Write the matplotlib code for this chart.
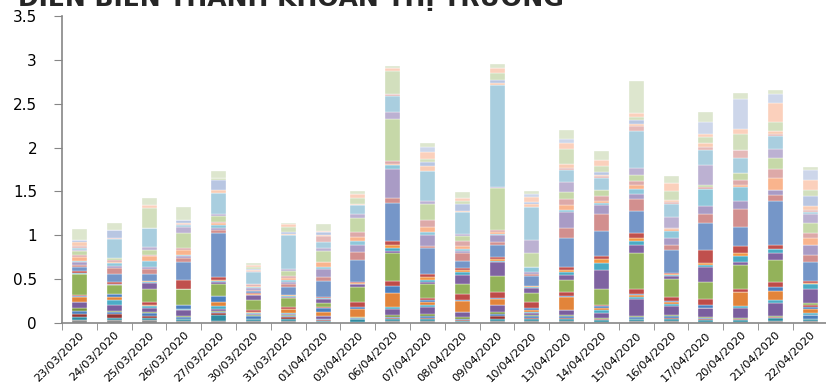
import numpy as np
import matplotlib.pyplot as plt

dates = ["23/03/2020", "24/03/2020", "25/03/2020", "26/03/2020", "27/03/2020",
         "30/03/2020", "31/03/2020", "01/04/2020", "03/04/2020", "06/04/2020",
         "07/04/2020", "08/04/2020", "09/04/2020", "10/04/2020", "13/04/2020",
         "14/04/2020", "15/04/2020", "16/04/2020", "17/04/2020", "20/04/2020",
         "21/04/2020", "22/04/2020"]

# traded value per stock for each session, bottom of the stack first
v2303 = [0.03, 0.04, 0.03, 0.04, 0.03, 0.065, 0.005, 0.06, 0.005, 0.015, 0.235, 0.005, 0.005, 0.005, 0.02, 0.05,
         0.02, 0.03, 0.015, 0.05, 0.02, 0.04, 0.02, 0.02, 0.02, 0.05, 0.025, 0, 0, 0, 0.12]
v2403 = [0.03, 0.03, 0.04, 0.02, 0.02, 0.06, 0.06, 0.04, 0.025, 0.005, 0.10, 0.01, 0.005, 0.005, 0.02, 0.09,
         0.07, 0.02, 0.03, 0.02, 0.02, 0.02, 0.005, 0.215, 0.005, 0.005, 0.09, 0, 0, 0, 0.08]
v2503 = [0.03, 0.03, 0.02, 0.03, 0.02, 0.04, 0.02, 0.01, 0.005, 0.035, 0.15, 0.07, 0.01, 0.005, 0.005, 0.08,
         0.06, 0.02, 0.07, 0.05, 0.02, 0.05, 0.04, 0.21, 0, 0, 0, 0.23, 0.03, 0, 0.08]
v2603 = [0.02, 0.02, 0.01, 0.02, 0.01, 0.07, 0.01, 0.005, 0.045, 0, 0.18, 0, 0, 0, 0.10, 0.21,
         0.04, 0.02, 0.02, 0.055, 0.02, 0.175, 0.07, 0.02, 0.01, 0.01, 0.03, 0, 0, 0, 0.15]
v2703 = [0.02, 0.07, 0.02, 0.02, 0.01, 0.02, 0.03, 0.05, 0.07, 0, 0.135, 0.02, 0.015, 0.015, 0.03, 0.505,
         0.035, 0.02, 0.03, 0.02, 0.02, 0.065, 0.02, 0.24, 0.005, 0.03, 0.115, 0.02, 0, 0, 0.08]
v3003 = [0.02, 0.02, 0.01, 0.03, 0.01, 0.01, 0.01, 0.01, 0, 0.025, 0.12, 0.05, 0.005, 0.005, 0.015, 0.02,
         0.02, 0.02, 0.01, 0.01, 0.03, 0, 0, 0.135, 0.005, 0.01, 0.01, 0.03, 0.02, 0, 0.02]
v3103 = [0.02, 0.03, 0.02, 0.01, 0.01, 0.01, 0.01, 0.045, 0.01, 0.02, 0.095, 0.02, 0.01, 0.005, 0.005, 0.09,
         0.04, 0.02, 0.02, 0.02, 0.02, 0.06, 0.02, 0.39, 0.005, 0.005, 0.03, 0.06, 0.025, 0, 0.02]
v0104 = [0.01, 0.01, 0.01, 0.01, 0.005, 0.035, 0.005, 0.035, 0.05, 0.01, 0.05, 0.04, 0.01, 0.01, 0.01, 0.18,
         0.04, 0.10, 0.015, 0.055, 0.01, 0.12, 0.03, 0.07, 0.07, 0.01, 0.04, 0, 0.01, 0, 0.08]
v0304 = [0.01, 0.03, 0.01, 0.01, 0.01, 0, 0, 0.085, 0.03, 0.055, 0.17, 0.03, 0.01, 0.01, 0.01, 0.25,
         0.09, 0.08, 0.04, 0.055, 0.055, 0.16, 0.04, 0.105, 0.005, 0.005, 0.005, 0.06, 0.05, 0, 0.03]
v0604 = [0.02, 0.02, 0.02, 0.01, 0.02, 0.065, 0.025, 0.165, 0.075, 0.06, 0.315, 0.03, 0.035, 0.03, 0.04, 0.44,
         0.05, 0.337, 0.04, 0.01, 0.043, 0.47, 0.08, 0.19, 0.02, 0, 0, 0.26, 0.04, 0, 0.02]
v0704 = [0.02, 0.02, 0.02, 0.02, 0.02, 0.08, 0.03, 0.03, 0.02, 0.03, 0.16, 0.02, 0.02, 0.03, 0.04, 0.29,
         0.03, 0.12, 0.04, 0.05, 0.085, 0.18, 0.035, 0.34, 0, 0.065, 0.035, 0.04, 0.08, 0.06, 0.04]
v0804 = [0.01, 0.01, 0.01, 0.02, 0.02, 0.06, 0, 0.115, 0.02, 0.06, 0.115, 0.11, 0.035, 0.02, 0.02, 0.085,
         0.085, 0.02, 0.025, 0.04, 0.05, 0.06, 0.03, 0.24, 0.01, 0.01, 0.075, 0.04, 0.025, 0, 0.07]
v0904 = [0.02, 0.03, 0.03, 0.02, 0.03, 0.075, 0, 0.065, 0.01, 0.077, 0.183, 0.15, 0.02, 0.02, 0.027, 0.133,
         0.03, 0.08, 0.02, 0.02, 0.02, 0.48, 0.015, 1.16, 0, 0.025, 0.03, 0.08, 0.06, 0, 0.045]
v1004 = [0.02, 0.02, 0.015, 0.02, 0.015, 0.02, 0.02, 0.02, 0.017, 0.076, 0.103, 0.05, 0.01, 0.02, 0, 0.11,
         0.02, 0.02, 0.065, 0, 0, 0.154, 0.152, 0.37, 0, 0.038, 0.03, 0, 0.055, 0.03, 0.04]
v1304 = [0.02, 0.02, 0.02, 0.02, 0.015, 0.057, 0, 0.141, 0.01, 0.047, 0.137, 0.063, 0.03, 0.025, 0.03, 0.335,
         0.11, 0.18, 0.03, 0.05, 0.075, 0.075, 0.12, 0.13, 0.03, 0.04, 0, 0.17, 0.07, 0.05, 0.10]
v1404 = [0.015, 0.015, 0.01, 0.01, 0.01, 0.055, 0.03, 0.025, 0.02, 0.02, 0.177, 0.213, 0.084, 0.04, 0.036, 0.286,
         0.194, 0.10, 0.025, 0.03, 0.055, 0.07, 0, 0.134, 0.02, 0.01, 0.036, 0.07, 0.07, 0, 0.10]
v1504 = [0.02, 0.02, 0.01, 0.015, 0.011, 0.198, 0.02, 0.02, 0.02, 0.054, 0.412, 0.094, 0.04, 0.03, 0.063, 0.253,
         0.134, 0.056, 0.06, 0.04, 0.05, 0.07, 0.08, 0.416, 0.057, 0.03, 0.04, 0.03, 0.05, 0, 0.364]
v1604 = [0.02, 0.02, 0.02, 0.02, 0.015, 0.095, 0.025, 0.02, 0.02, 0.038, 0.213, 0.03, 0.01, 0.01, 0.01, 0.27,
         0.058, 0.076, 0.083, 0.015, 0.016, 0, 0.12, 0.153, 0.025, 0.025, 0, 0.093, 0.097, 0, 0.076]
v1704 = [0.015, 0.015, 0.015, 0.01, 0.01, 0.105, 0, 0, 0.04, 0.064, 0.19, 0.171, 0.025, 0.024, 0.145, 0.311,
         0.103, 0.087, 0.2, 0, 0.02, 0.02, 0.23, 0.177, 0.03, 0.046, 0, 0.065, 0.04, 0.132, 0.117]
v2004 = [0.015, 0.015, 0.01, 0.01, 0.01, 0.11, 0.028, 0.152, 0, 0.038, 0.27, 0.038, 0.064, 0.04, 0.075, 0.225,
         0.20, 0.09, 0.157, 0.023, 0.065, 0.075, 0, 0.17, 0.097, 0, 0, 0.179, 0.054, 0.34, 0.074]
v2104 = [0.02, 0.037, 0.01, 0.005, 0.005, 0.151, 0.038, 0.103, 0.041, 0.058, 0.247, 0.08, 0.045, 0, 0.054, 0.501,
         0.065, 0.06, 0, 0.134, 0.096, 0.13, 0.105, 0.145, 0.03, 0.026, 0, 0.104, 0.22, 0.095, 0.055]
v2204 = [0.02, 0.02, 0.01, 0.045, 0, 0, 0.015, 0.045, 0.025, 0.03, 0.02, 0.159, 0.05, 0.016, 0.02, 0.224,
         0.08, 0.11, 0, 0.08, 0.06, 0.11, 0.10, 0.03, 0.02, 0.05, 0.105, 0.075, 0.11, 0.115, 0.038]

colors = ["#8E8E8E", "#2E8BA0", "#943634", "#4A7EBB", "#77933C", "#7A5E9E", "#4BACC6", "#E2843A",
          "#4B7FBF", "#BE4B48", "#93B25A", "#7F63A1", "#4AABC4", "#F29743", "#C0504D", "#7596C8",
          "#D28F8E", "#A99BC5", "#8FC7DA", "#F9B48D", "#DDA9A8", "#C6D8A8", "#BCB1D2", "#A9CEDF",
          "#E5B9B8", "#F9CCB4", "#B8C6E2", "#D2DFBD", "#FBD0BC", "#CDD6EA", "#DDE6CE"]


def main():
    sessions = [v2303, v2403, v2503, v2603, v2703, v3003, v3103, v0104, v0304, v0604, v0704,
                v0804, v0904, v1004, v1304, v1404, v1504, v1604, v1704, v2004, v2104, v2204]
    layers = np.array(sessions).T
    x = np.arange(len(dates))

    fig = plt.figure(figsize=(8.26, 3.89), dpi=100)
    ax = fig.add_axes([0.0751, 0.1697, 0.9269, 0.7892])

    bottom = np.zeros(len(dates))
    for layer, color in zip(layers, colors):
        ax.bar(x, layer, width=0.43, bottom=bottom, color=color,
               edgecolor="white", linewidth=0.25)
        bottom += layer

    ax.set_xlim(-0.5, len(dates) - 0.5)
    ax.set_ylim(0, 3.5)
    ax.set_yticks(np.arange(0, 3.51, 0.5))
    ax.set_yticklabels(["0", "0.5", "1", "1.5", "2", "2.5", "3", "3.5"], fontsize=11)
    ax.set_xticks(x)
    ax.set_xticklabels(dates, rotation=45, ha="right", va="top",
                       rotation_mode="anchor", fontsize=8.2)
    ax.set_xticks(np.arange(-0.5, len(dates)), minor=True)
    ax.tick_params(axis="x", which="major", length=0, pad=5)
    ax.tick_params(axis="x", which="minor", length=5, color="#868686")
    ax.tick_params(axis="y", length=6, color="#868686", pad=12)

    for side in ["top", "right"]:
        ax.spines[side].set_visible(False)
    for side in ["left", "bottom"]:
        ax.spines[side].set_color("#868686")
        ax.spines[side].set_linewidth(1.2)

    fig.text(18 / 826, 1 - 6 / 389, "DIỄN BIẾN THANH KHOẢN THỊ TRƯỜNG",
             fontsize=18, fontweight="bold", color="#262626", va="baseline", ha="left")

    fig.savefig("out.png", dpi=100)


if __name__ == '__main__':
    main()
